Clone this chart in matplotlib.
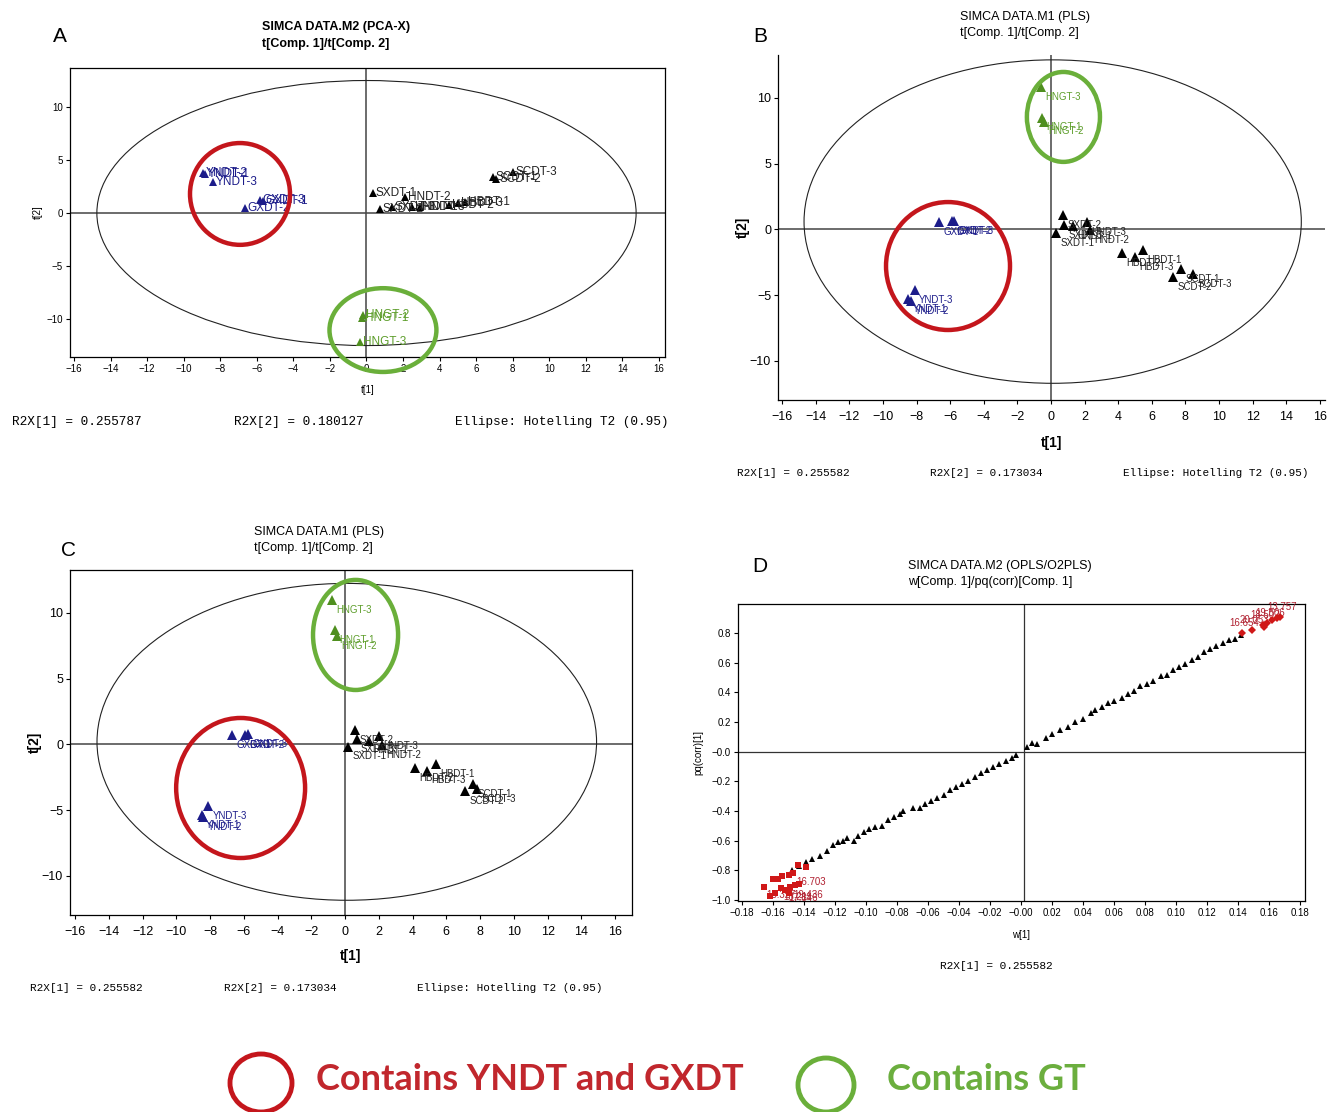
import matplotlib.pyplot as plt
from matplotlib.patches import Ellipse

W, H = 1327, 1112
plt.rcParams['font.family'] = ['Liberation Sans', 'DejaVu Sans']

BLUE = '#1c1c8a'
GREEN = '#4f8f1f'
GREEN_TXT = '#5e9e2c'
RED = '#c4161c'
RING_GREEN = '#6aaf3a'

# ---- panel A: PCA-X scores ----
a_names = ['YNDT-2', 'YNDT-1', 'YNDT-3', 'GXDT-3', 'GXDT-1', 'GXDT-2',
           'SXDT-1', 'SXDT-2', 'SXDT-3', 'HNDT-2', 'HNDT-1', 'HNDT-3',
           'HBDT-2', 'HBDT-3', 'HBDT-1', 'SCDT-1', 'SCDT-2', 'SCDT-3',
           'HNGT-2', 'HNGT-1', 'HNGT-3']
a_t1 = [-8.94, -8.85, -8.4, -5.83, -5.66, -6.65,
        0.36, 0.74, 1.4, 2.1, 2.5, 2.9,
        4.5, 5.0, 5.4, 6.9, 7.1, 8.0,
        -0.19, -0.25, -0.36]
a_t2 = [3.77, 3.7, 2.92, 1.23, 1.13, 0.47,
        1.9, 0.4, 0.6, 1.5, 0.6, 0.6,
        0.75, 0.9, 1.0, 3.4, 3.2, 3.9,
        -9.62, -9.9, -12.17]

# ---- panel B: PLS scores ----
b_names = ['GXDT-1', 'GXDT-2', 'GXDT-3', 'YNDT-3', 'YNDT-1', 'YNDT-2',
           'SXDT-2', 'SXDT-3', 'SXDT-1', 'HNDT-1', 'HNDT-3', 'HNDT-2',
           'HBDT-2', 'HBDT-3', 'HBDT-1', 'SCDT-2', 'SCDT-1', 'SCDT-3',
           'HNGT-3', 'HNGT-1', 'HNGT-2']
b_t1 = [-6.67, -5.9, -5.77, -8.1, -8.5, -8.33,
        0.71, 0.77, 0.3, 1.31, 2.14, 2.32,
        4.23, 5.0, 5.48, 7.26, 7.74, 8.45,
        -0.6, -0.54, -0.42]
b_t2 = [0.57, 0.65, 0.65, -4.6, -5.3, -5.43,
        1.1, 0.34, -0.27, 0.27, 0.57, -0.04,
        -1.79, -2.09, -1.56, -3.61, -3.0, -3.38,
        10.8, 8.5, 8.2]

# ---- panel C: PLS scores ----
c_names = b_names
c_t1 = [-6.7, -5.93, -5.75, -8.1, -8.47, -8.4,
        0.59, 0.69, 0.2, 1.44, 2.03, 2.17,
        4.15, 4.88, 5.37, 7.11, 7.6, 7.84,
        -0.77, -0.6, -0.47]
c_t2 = [0.72, 0.72, 0.8, -4.68, -5.36, -5.51,
        1.1, 0.4, -0.17, 0.29, 0.65, -0.04,
        -1.81, -1.99, -1.48, -3.54, -3.0, -3.41,
        10.99, 8.7, 8.25]

# ---- panel D: OPLS S-plot ----
d_w = [-0.148, -0.143, -0.139, -0.135, -0.130, -0.125, -0.121, -0.118,
       -0.115, -0.112, -0.108, -0.105, -0.101, -0.098, -0.094, -0.090,
       -0.086, -0.082, -0.078, -0.076, -0.070, -0.065, -0.062, -0.058,
       -0.054, -0.050, -0.046, -0.042, -0.038, -0.034, -0.030, -0.026,
       -0.022, -0.018, -0.014, -0.010, -0.006, -0.003, 0.004, 0.007,
       0.010, 0.016, 0.020, 0.025, 0.030, 0.035, 0.040, 0.045,
       0.048, 0.052, 0.056, 0.060, 0.065, 0.069, 0.073, 0.077,
       0.081, 0.085, 0.090, 0.094, 0.098, 0.102, 0.106, 0.110,
       0.114, 0.118, 0.122, 0.126, 0.130, 0.134, 0.138, 0.142]
d_pq = [-0.80, -0.77, -0.74, -0.72, -0.70, -0.67, -0.63, -0.61,
        -0.60, -0.58, -0.60, -0.57, -0.54, -0.52, -0.51, -0.50,
        -0.46, -0.44, -0.42, -0.40, -0.38, -0.38, -0.35, -0.33,
        -0.31, -0.29, -0.26, -0.24, -0.22, -0.20, -0.17, -0.14,
        -0.12, -0.10, -0.08, -0.06, -0.04, -0.02, 0.03, 0.06,
        0.05, 0.09, 0.12, 0.15, 0.17, 0.20, 0.22, 0.26,
        0.28, 0.30, 0.33, 0.34, 0.36, 0.39, 0.41, 0.44,
        0.46, 0.48, 0.51, 0.52, 0.55, 0.57, 0.59, 0.62,
        0.64, 0.67, 0.69, 0.71, 0.73, 0.75, 0.76, 0.79]
d_low_w = [-0.166, -0.160, -0.157, -0.154, -0.150, -0.147, -0.144, -0.139,
           -0.155, -0.152, -0.149, -0.146, -0.143, -0.159, -0.162, -0.150]
d_low_pq = [-0.91, -0.86, -0.86, -0.84, -0.83, -0.82, -0.76, -0.78,
            -0.92, -0.93, -0.91, -0.90, -0.89, -0.95, -0.97, -0.95]
d_low_lab = ['15.327', '', '', '', '', '16.703', '', '',
             '18.211', '17.846', '19.436', '', '', '', '', '']
d_high_w = [0.1426, 0.149, 0.156, 0.157, 0.159, 0.162, 0.165, 0.167]
d_high_pq = [0.80, 0.82, 0.855, 0.84, 0.87, 0.89, 0.90, 0.91]
d_high_lab = ['16.654', '20.053', '18.502', '', '19.506', '', '', '13.757']


def px(x0, y0, x1, y1):
    return [x0 / W, 1 - y1 / H, (x1 - x0) / W, (y1 - y0) / H]


def ftext(x, y, s, **kw):
    kw.setdefault('va', 'center')
    return fig.text(x / W, 1 - y / H, s, **kw)


def colors(name):
    if 'NGT' in name:
        return GREEN, GREEN_TXT
    if name.startswith(('YNDT', 'GXDT')):
        return BLUE, BLUE
    return 'black', '#222222'


def scores(ax, names, t1, t2, ms, fs, off):
    for n, x, y in zip(names, t1, t2):
        mc, tc = colors(n)
        ax.plot(x, y, '^', color=mc, ms=ms, mew=0, zorder=4)
        ax.annotate(n, (x, y), xytext=off, textcoords='offset points',
                    fontsize=fs, color=tc, va='center', zorder=5)
    ax.axhline(0, color='#444444', lw=1.1, zorder=1)
    ax.axvline(0, color='#444444', lw=1.1, zorder=1)


def ring(ax, cx, cy, w, h, color):
    ax.add_patch(Ellipse((cx, cy), w, h, fill=False, ec=color, lw=3.2,
                         clip_on=False, zorder=6))


def ticks(ax, size):
    ax.tick_params(direction='out', length=3, width=0.8, labelsize=size,
                   pad=2)
    for s in ax.spines.values():
        s.set_linewidth(0.9)


fig = plt.figure(figsize=(W / 100, H / 100), dpi=100)

# ------------- A -------------
axA = fig.add_axes(px(70, 68, 665, 357))
scores(axA, a_names, a_t1, a_t2, 6, 8.5, (2, 0))
axA.add_patch(Ellipse((0, 0), 29.5, 25.0, fill=False, ec='#222222', lw=0.8))
ring(axA, -6.92, 1.8, 5.47, 9.6, RED)
ring(axA, 0.9, -11.04, 5.85, 7.9, RING_GREEN)
axA.set_xlim(-16.22, 16.33)
axA.set_ylim(-13.58, 13.68)
axA.set_xticks(range(-16, 17, 2))
axA.set_yticks([-10, -5, 0, 5, 10])
ticks(axA, 7)
axA.set_xlabel('t[1]', fontsize=7, labelpad=8)
axA.set_ylabel('t[2]', fontsize=7, labelpad=3)
ftext(60, 36, 'A', fontsize=15, ha='center')
ftext(262, 27, 'SIMCA DATA.M2 (PCA-X)', fontsize=9, fontweight='bold')
ftext(262, 44, 't[Comp. 1]/t[Comp. 2]', fontsize=9, fontweight='bold')
for x, s in [(12, 'R2X[1] = 0.255787'), (234, 'R2X[2] = 0.180127'),
             (455, 'Ellipse: Hotelling T2 (0.95)')]:
    ftext(x, 422, s, fontsize=9.2, family='Liberation Mono')

# ------------- B -------------
axB = fig.add_axes(px(778, 55, 1325, 400))
scores(axB, b_names, b_t1, b_t2, 7, 7, (3, -7))
axB.add_patch(Ellipse((0.1, 0.6), 29.6, 24.6, fill=False, ec='#222222',
                      lw=0.8, clip_on=False))
ring(axB, -6.13, -2.78, 7.38, 9.73, RED)
ring(axB, 0.74, 8.56, 4.35, 6.84, RING_GREEN)
axB.set_xlim(-16.25, 16.31)
axB.set_ylim(-12.97, 13.27)
axB.set_xticks(range(-16, 17, 2))
axB.set_yticks([-10, -5, 0, 5, 10])
axB.spines['top'].set_visible(False)
axB.spines['right'].set_visible(False)
ticks(axB, 9)
axB.tick_params(axis='x', pad=5)
axB.set_xlabel('t[1]', fontsize=10, fontweight='bold', labelpad=9)
axB.set_ylabel('t[2]', fontsize=10, fontweight='bold', labelpad=0)
ftext(760, 36, 'B', fontsize=15, ha='center')
ftext(960, 17, 'SIMCA DATA.M1 (PLS)', fontsize=9)
ftext(960, 33, 't[Comp. 1]/t[Comp. 2]', fontsize=9)
for x, s in [(737, 'R2X[1] = 0.255582'), (930, 'R2X[2] = 0.173034'),
             (1123, 'Ellipse: Hotelling T2 (0.95)')]:
    ftext(x, 473, s, fontsize=7.9, family='Liberation Mono')

# ------------- C -------------
axC = fig.add_axes(px(70, 570, 632, 915))
scores(axC, c_names, c_t1, c_t2, 7, 7, (3, -7))
axC.add_patch(Ellipse((0.1, 0.2), 29.6, 24.1, fill=False, ec='#222222',
                      lw=0.8))
ring(axC, -6.19, -3.31, 7.64, 10.65, RED)
ring(axC, 0.62, 8.33, 5.04, 8.37, RING_GREEN)
axC.set_xlim(-16.3, 17.0)
axC.set_ylim(-12.97, 13.27)
axC.set_xticks(range(-16, 17, 2))
axC.set_yticks([-10, -5, 0, 5, 10])
ticks(axC, 9)
axC.tick_params(axis='x', pad=5)
axC.set_xlabel('t[1]', fontsize=10, fontweight='bold', labelpad=8)
axC.set_ylabel('t[2]', fontsize=10, fontweight='bold', labelpad=0)
ftext(68, 550, 'C', fontsize=15, ha='center')
ftext(254, 532, 'SIMCA DATA.M1 (PLS)', fontsize=9)
ftext(254, 548, 't[Comp. 1]/t[Comp. 2]', fontsize=9)
for x, s in [(30, 'R2X[1] = 0.255582'), (224, 'R2X[2] = 0.173034'),
             (417, 'Ellipse: Hotelling T2 (0.95)')]:
    ftext(x, 988, s, fontsize=7.9, family='Liberation Mono')

# ------------- D -------------
axD = fig.add_axes(px(738, 604, 1305, 901))
axD.plot(d_w, d_pq, '^', color='black', ms=4.5, mew=0, zorder=3)
axD.plot(d_low_w, d_low_pq, 's', color='#d01818', ms=4, mew=0, zorder=4)
axD.plot(d_high_w, d_high_pq, 'D', color='#d01818', ms=4, mew=0, zorder=4)
for w, p, s in zip(d_low_w, d_low_pq, d_low_lab):
    if s:
        axD.annotate(s, (w, p), xytext=(2, -6), textcoords='offset points',
                     fontsize=7, color='#b02030', va='center',
                     annotation_clip=False)
for w, p, s in zip(d_high_w, d_high_pq, d_high_lab):
    if s:
        axD.annotate(s, (w, p), xytext=(-9, 7), textcoords='offset points',
                     fontsize=7, color='#b02030', va='center',
                     annotation_clip=False)
axD.axhline(0, color='#333333', lw=0.9, zorder=1)
axD.axvline(0.002, color='#333333', lw=0.9, zorder=1)
axD.set_xlim(-0.1826, 0.1832)
axD.set_ylim(-1.006, 0.996)
xt = [i / 100 for i in range(-18, 19, 2)]
axD.set_xticks(xt)
axD.set_xticklabels([('\u2212' if v <= 0 else '') + f'{abs(v):.2f}'
                     for v in xt])
yt = [i / 10 for i in range(-10, 9, 2)]
axD.set_yticks(yt)
axD.set_yticklabels([('\u2212' if v <= 0 else '') + f'{abs(v):.1f}'
                     for v in yt])
ticks(axD, 7)
axD.set_xlabel('w[1]', fontsize=7, labelpad=9)
axD.set_ylabel('pq(corr)[1]', fontsize=7, labelpad=6)
ftext(760, 566, 'D', fontsize=15, ha='center')
ftext(908, 566, 'SIMCA DATA.M2 (OPLS/O2PLS)', fontsize=9)
ftext(908, 582, 'w[Comp. 1]/pq(corr)[Comp. 1]', fontsize=9)
ftext(940, 966, 'R2X[1] = 0.255582', fontsize=8, family='Liberation Mono')

# ------------- legend -------------
axL = fig.add_axes([0, 0, 1, 1], zorder=-1)
axL.set_xlim(0, W)
axL.set_ylim(H, 0)
axL.axis('off')
axL.add_patch(Ellipse((261, 1083), 62, 58, fill=False, ec=RED, lw=3.5,
                      clip_on=False))
axL.add_patch(Ellipse((826, 1085), 56, 54, fill=False, ec=RING_GREEN,
                      lw=3.5, clip_on=False))
ftext(316, 1080, 'Contains YNDT and GXDT', fontsize=26, fontweight='bold',
      color='#c1272d', family='Lato')
ftext(887, 1080, 'Contains GT', fontsize=26, fontweight='bold',
      color='#6bae3e', family='Lato')

fig.savefig('out.png', dpi=100)
